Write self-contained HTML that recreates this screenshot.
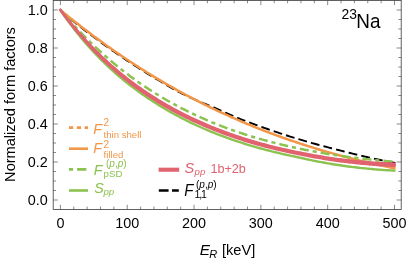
<!DOCTYPE html>
<html><head><meta charset="utf-8"><title>23Na form factors</title>
<style>html,body{margin:0;padding:0;background:#fff;}body{width:407px;height:260px;overflow:hidden;font-family:"Liberation Sans",sans-serif;}</style>
</head><body>
<svg width="407" height="260" viewBox="0 0 407 260" style="display:block;font-family:'Liberation Sans',sans-serif">
<rect width="407" height="260" fill="#fff"/>
<clipPath id="c"><rect x="53.2" y="0.5" width="348.0" height="208.9"/></clipPath>
<g clip-path="url(#c)" fill="none" stroke-linecap="butt" stroke-linejoin="round">
<path d="M60.40,10.00 L62.08,11.47 L63.77,12.92 L65.45,14.38 L67.14,15.82 L68.82,17.26 L70.50,18.69 L72.19,20.11 L73.87,21.52 L75.56,22.92 L77.24,24.30 L78.92,25.67 L80.61,27.01 L82.29,28.34 L83.97,29.66 L85.66,30.95 L87.34,32.23 L89.03,33.50 L90.71,34.77 L92.39,36.03 L94.08,37.29 L95.76,38.53 L97.45,39.77 L99.13,41.01 L100.81,42.23 L102.50,43.46 L104.18,44.67 L105.87,45.88 L107.55,47.08 L109.23,48.27 L110.92,49.46 L112.60,50.64 L114.29,51.81 L115.97,52.98 L117.65,54.14 L119.34,55.29 L121.02,56.44 L122.71,57.58 L124.39,58.71 L126.07,59.84 L127.76,60.96 L129.44,62.08 L131.12,63.18 L132.81,64.28 L134.49,65.38 L136.18,66.47 L137.86,67.55 L139.54,68.62 L141.23,69.69 L142.91,70.76 L144.60,71.81 L146.28,72.86 L147.96,73.91 L149.65,74.94 L151.33,75.97 L153.02,77.00 L154.70,78.02 L156.38,79.03 L158.07,80.03 L159.75,81.03 L161.44,82.03 L163.12,83.01 L164.80,83.99 L166.49,84.97 L168.17,85.94 L169.85,86.90 L171.54,87.86 L173.22,88.81 L174.91,89.75 L176.59,90.68 L178.27,91.58 L179.96,92.46 L181.64,93.32 L183.33,94.16 L185.01,94.98 L186.69,95.79 L188.38,96.59 L190.06,97.37 L191.75,98.16 L193.43,98.93 L195.11,99.71 L196.80,100.47 L198.48,101.21 L200.17,101.92 L201.85,102.63 L203.53,103.32 L205.22,104.00 L206.90,104.69 L208.58,105.37 L210.27,106.07 L211.95,106.77 L213.64,107.49 L215.32,108.23 L217.00,108.98 L218.69,109.73 L220.37,110.48 L222.06,111.23 L223.74,111.98 L225.42,112.72 L227.11,113.46 L228.79,114.20 L230.48,114.93 L232.16,115.65 L233.84,116.37 L235.53,117.08 L237.21,117.78 L238.90,118.46 L240.58,119.14 L242.26,119.80 L243.95,120.45 L245.63,121.08 L247.32,121.70 L249.00,122.32 L250.68,122.94 L252.37,123.57 L254.05,124.19 L255.73,124.81 L257.42,125.42 L259.10,126.03 L260.79,126.64 L262.47,127.24 L264.15,127.84 L265.84,128.43 L267.52,129.02 L269.21,129.60 L270.89,130.19 L272.57,130.76 L274.26,131.33 L275.94,131.90 L277.63,132.47 L279.31,133.03 L280.99,133.58 L282.68,134.13 L284.36,134.68 L286.05,135.22 L287.73,135.76 L289.41,136.29 L291.10,136.82 L292.78,137.34 L294.46,137.86 L296.15,138.37 L297.83,138.89 L299.52,139.39 L301.20,139.90 L302.88,140.39 L304.57,140.89 L306.25,141.38 L307.94,141.87 L309.62,142.35 L311.30,142.83 L312.99,143.31 L314.67,143.78 L316.36,144.25 L318.04,144.71 L319.72,145.17 L321.41,145.62 L323.09,146.07 L324.78,146.51 L326.46,146.95 L328.14,147.39 L329.83,147.83 L331.51,148.26 L333.19,148.70 L334.88,149.13 L336.56,149.56 L338.25,149.99 L339.93,150.43 L341.61,150.86 L343.30,151.29 L344.98,151.72 L346.67,152.15 L348.35,152.57 L350.03,152.99 L351.72,153.41 L353.40,153.82 L355.09,154.23 L356.77,154.64 L358.45,155.04 L360.14,155.44 L361.82,155.84 L363.51,156.23 L365.19,156.62 L366.87,157.01 L368.56,157.39 L370.24,157.77 L371.93,158.14 L373.61,158.51 L375.29,158.88 L376.98,159.25 L378.66,159.61 L380.34,159.97 L382.03,160.33 L383.71,160.68 L385.40,161.03 L387.08,161.37 L388.76,161.72 L390.45,162.06 L392.13,162.40 L393.82,162.73 L395.50,163.06" stroke="#000000" stroke-width="1.9" stroke-dasharray="8.85 4.15"/>
<path d="M60.40,10.00 L62.08,11.38 L63.77,12.76 L65.45,14.13 L67.14,15.50 L68.82,16.85 L70.50,18.20 L72.19,19.55 L73.87,20.88 L75.56,22.21 L77.24,23.54 L78.92,24.85 L80.61,26.16 L82.29,27.46 L83.97,28.76 L85.66,30.05 L87.34,31.33 L89.03,32.60 L90.71,33.87 L92.39,35.13 L94.08,36.39 L95.76,37.63 L97.45,38.87 L99.13,40.11 L100.81,41.33 L102.50,42.56 L104.18,43.77 L105.87,44.98 L107.55,46.18 L109.23,47.37 L110.92,48.56 L112.60,49.74 L114.29,50.91 L115.97,52.08 L117.65,53.24 L119.34,54.39 L121.02,55.54 L122.71,56.68 L124.39,57.81 L126.07,58.94 L127.76,60.06 L129.44,61.18 L131.12,62.28 L132.81,63.38 L134.49,64.48 L136.18,65.57 L137.86,66.65 L139.54,67.72 L141.23,68.79 L142.91,69.86 L144.60,70.91 L146.28,71.96 L147.96,73.01 L149.65,74.04 L151.33,75.07 L153.02,76.10 L154.70,77.12 L156.38,78.13 L158.07,79.13 L159.75,80.13 L161.44,81.13 L163.12,82.11 L164.80,83.09 L166.49,84.07 L168.17,85.04 L169.85,86.00 L171.54,86.96 L173.22,87.91 L174.91,88.85 L176.59,89.79 L178.27,90.72 L179.96,91.65 L181.64,92.57 L183.33,93.48 L185.01,94.39 L186.69,95.29 L188.38,96.19 L190.06,97.08 L191.75,97.96 L193.43,98.84 L195.11,99.72 L196.80,100.58 L198.48,101.44 L200.17,102.30 L201.85,103.15 L203.53,103.99 L205.22,104.83 L206.90,105.66 L208.58,106.49 L210.27,107.31 L211.95,108.13 L213.64,108.94 L215.32,109.74 L217.00,110.54 L218.69,111.34 L220.37,112.12 L222.06,112.91 L223.74,113.68 L225.42,114.46 L227.11,115.22 L228.79,115.98 L230.48,116.74 L232.16,117.49 L233.84,118.23 L235.53,118.97 L237.21,119.71 L238.90,120.44 L240.58,121.16 L242.26,121.88 L243.95,122.59 L245.63,123.30 L247.32,124.00 L249.00,124.70 L250.68,125.39 L252.37,126.08 L254.05,126.76 L255.73,127.44 L257.42,128.11 L259.10,128.78 L260.79,129.44 L262.47,130.10 L264.15,130.75 L265.84,131.40 L267.52,132.04 L269.21,132.68 L270.89,133.32 L272.57,133.94 L274.26,134.57 L275.94,135.19 L277.63,135.80 L279.31,136.41 L280.99,137.02 L282.68,137.62 L284.36,138.21 L286.05,138.80 L287.73,139.39 L289.41,139.97 L291.10,140.55 L292.78,141.12 L294.46,141.69 L296.15,142.25 L297.83,142.81 L299.52,143.37 L301.20,143.92 L302.88,144.47 L304.57,145.01 L306.25,145.55 L307.94,146.08 L309.62,146.61 L311.30,147.13 L312.99,147.65 L314.67,148.17 L316.36,148.68 L318.04,149.19 L319.72,149.69 L321.41,150.19 L323.09,150.69 L324.78,151.18 L326.46,151.67 L328.14,152.15 L329.83,152.63 L331.51,153.11 L333.19,153.58 L334.88,154.05 L336.56,154.51 L338.25,154.97 L339.93,155.43 L341.61,155.88 L343.30,156.33 L344.98,156.77 L346.67,157.21 L348.35,157.65 L350.03,158.08 L351.72,158.51 L353.40,158.94 L355.09,159.36 L356.77,159.78 L358.45,160.20 L360.14,160.61 L361.82,161.02 L363.51,161.42 L365.19,161.82 L366.87,162.22 L368.56,162.61 L370.24,163.00 L371.93,163.39 L373.61,163.78 L375.29,164.16 L376.98,164.53 L378.66,164.91 L380.34,165.28 L382.03,165.64 L383.71,166.01 L385.40,166.37 L387.08,166.73 L388.76,167.08 L390.45,167.43 L392.13,167.78 L393.82,168.12 L395.50,168.47" stroke="#F29648" stroke-width="2.5"/>
<path d="M60.40,10.00 L62.08,11.98 L63.77,13.93 L65.45,15.87 L67.14,17.78 L68.82,19.68 L70.50,21.55 L72.19,23.41 L73.87,25.24 L75.56,27.06 L77.24,28.85 L78.92,30.63 L80.61,32.38 L82.29,34.12 L83.97,35.84 L85.66,37.54 L87.34,39.22 L89.03,40.88 L90.71,42.52 L92.39,44.15 L94.08,45.76 L95.76,47.35 L97.45,48.92 L99.13,50.47 L100.81,52.01 L102.50,53.53 L104.18,55.03 L105.87,56.52 L107.55,57.99 L109.23,59.44 L110.92,60.87 L112.60,62.29 L114.29,63.70 L115.97,65.09 L117.65,66.46 L119.34,67.81 L121.02,69.15 L122.71,70.48 L124.39,71.79 L126.07,73.08 L127.76,74.36 L129.44,75.63 L131.12,76.88 L132.81,78.12 L134.49,79.34 L136.18,80.54 L137.86,81.74 L139.54,82.92 L141.23,84.08 L142.91,85.24 L144.60,86.37 L146.28,87.50 L147.96,88.61 L149.65,89.71 L151.33,90.79 L153.02,91.87 L154.70,92.93 L156.38,93.98 L158.07,95.01 L159.75,96.03 L161.44,97.04 L163.12,98.04 L164.80,99.03 L166.49,100.00 L168.17,100.97 L169.85,101.92 L171.54,102.86 L173.22,103.79 L174.91,104.71 L176.59,105.61 L178.27,106.51 L179.96,107.39 L181.64,108.27 L183.33,109.13 L185.01,109.98 L186.69,110.83 L188.38,111.66 L190.06,112.48 L191.75,113.29 L193.43,114.10 L195.11,114.89 L196.80,115.67 L198.48,116.44 L200.17,117.21 L201.85,117.96 L203.53,118.71 L205.22,119.44 L206.90,120.17 L208.58,120.89 L210.27,121.59 L211.95,122.29 L213.64,122.99 L215.32,123.67 L217.00,124.34 L218.69,125.01 L220.37,125.66 L222.06,126.31 L223.74,126.95 L225.42,127.59 L227.11,128.21 L228.79,128.83 L230.48,129.44 L232.16,130.04 L233.84,130.63 L235.53,131.22 L237.21,131.80 L238.90,132.37 L240.58,132.93 L242.26,133.49 L243.95,134.04 L245.63,134.58 L247.32,135.12 L249.00,135.64 L250.68,136.17 L252.37,136.68 L254.05,137.19 L255.73,137.69 L257.42,138.19 L259.10,138.68 L260.79,139.16 L262.47,139.63 L264.15,140.10 L265.84,140.57 L267.52,141.03 L269.21,141.48 L270.89,141.92 L272.57,142.36 L274.26,142.80 L275.94,143.22 L277.63,143.65 L279.31,144.06 L280.99,144.47 L282.68,144.88 L284.36,145.28 L286.05,145.67 L287.73,146.06 L289.41,146.45 L291.10,146.82 L292.78,147.20 L294.46,147.57 L296.15,147.93 L297.83,148.29 L299.52,148.64 L301.20,148.99 L302.88,149.33 L304.57,149.67 L306.25,150.00 L307.94,150.33 L309.62,150.65 L311.30,150.97 L312.99,151.29 L314.67,151.60 L316.36,151.91 L318.04,152.21 L319.72,152.50 L321.41,152.80 L323.09,153.08 L324.78,153.37 L326.46,153.65 L328.14,153.92 L329.83,154.19 L331.51,154.46 L333.19,154.72 L334.88,154.98 L336.56,155.24 L338.25,155.49 L339.93,155.74 L341.61,155.98 L343.30,156.22 L344.98,156.45 L346.67,156.68 L348.35,156.91 L350.03,157.14 L351.72,157.36 L353.40,157.57 L355.09,157.79 L356.77,158.00 L358.45,158.20 L360.14,158.40 L361.82,158.60 L363.51,158.80 L365.19,158.99 L366.87,159.18 L368.56,159.36 L370.24,159.54 L371.93,159.72 L373.61,159.89 L375.29,160.07 L376.98,160.23 L378.66,160.40 L380.34,160.56 L382.03,160.72 L383.71,160.87 L385.40,161.02 L387.08,161.17 L388.76,161.32 L390.45,161.46 L392.13,161.60 L393.82,161.74 L395.50,161.87" stroke="#8CC250" stroke-width="2.5" stroke-dasharray="4.2 4 9 3.9"/>
<path d="M60.40,10.00 L62.08,12.53 L63.77,15.01 L65.45,17.44 L67.14,19.82 L68.82,22.14 L70.50,24.40 L72.19,26.62 L73.87,28.80 L75.56,30.93 L77.24,33.03 L78.92,35.08 L80.61,37.12 L82.29,39.15 L83.97,41.14 L85.66,43.09 L87.34,45.02 L89.03,46.91 L90.71,48.78 L92.39,50.61 L94.08,52.42 L95.76,54.20 L97.45,55.96 L99.13,57.69 L100.81,59.39 L102.50,61.07 L104.18,62.72 L105.87,64.35 L107.55,65.95 L109.23,67.53 L110.92,69.09 L112.60,70.62 L114.29,72.13 L115.97,73.62 L117.65,75.09 L119.34,76.53 L121.02,77.95 L122.71,79.35 L124.39,80.73 L126.07,82.09 L127.76,83.43 L129.44,84.75 L131.12,86.06 L132.81,87.34 L134.49,88.61 L136.18,89.86 L137.86,91.09 L139.54,92.31 L141.23,93.51 L142.91,94.69 L144.60,95.86 L146.28,97.01 L147.96,98.14 L149.65,99.27 L151.33,100.37 L153.02,101.46 L154.70,102.54 L156.38,103.61 L158.07,104.66 L159.75,105.69 L161.44,106.72 L163.12,107.73 L164.80,108.73 L166.49,109.72 L168.17,110.69 L169.85,111.65 L171.54,112.60 L173.22,113.54 L174.91,114.47 L176.59,115.39 L178.27,116.29 L179.96,117.19 L181.64,118.07 L183.33,118.94 L185.01,119.80 L186.69,120.65 L188.38,121.48 L190.06,122.31 L191.75,123.12 L193.43,123.93 L195.11,124.72 L196.80,125.50 L198.48,126.27 L200.17,127.03 L201.85,127.77 L203.53,128.51 L205.22,129.23 L206.90,129.95 L208.58,130.65 L210.27,131.35 L211.95,132.03 L213.64,132.71 L215.32,133.38 L217.00,134.04 L218.69,134.69 L220.37,135.34 L222.06,135.97 L223.74,136.60 L225.42,137.22 L227.11,137.83 L228.79,138.43 L230.48,139.03 L232.16,139.62 L233.84,140.20 L235.53,140.77 L237.21,141.33 L238.90,141.89 L240.58,142.44 L242.26,142.98 L243.95,143.51 L245.63,144.04 L247.32,144.56 L249.00,145.08 L250.68,145.58 L252.37,146.08 L254.05,146.57 L255.73,147.06 L257.42,147.54 L259.10,148.01 L260.79,148.48 L262.47,148.94 L264.15,149.39 L265.84,149.84 L267.52,150.28 L269.21,150.71 L270.89,151.14 L272.57,151.56 L274.26,151.97 L275.94,152.38 L277.63,152.79 L279.31,153.18 L280.99,153.57 L282.68,153.96 L284.36,154.34 L286.05,154.71 L287.73,155.08 L289.41,155.44 L291.10,155.80 L292.78,156.16 L294.46,156.52 L296.15,156.88 L297.83,157.24 L299.52,157.60 L301.20,157.97 L302.88,158.35 L304.57,158.73 L306.25,159.10 L307.94,159.47 L309.62,159.84 L311.30,160.19 L312.99,160.55 L314.67,160.89 L316.36,161.23 L318.04,161.56 L319.72,161.88 L321.41,162.19 L323.09,162.50 L324.78,162.80 L326.46,163.10 L328.14,163.39 L329.83,163.68 L331.51,163.96 L333.19,164.24 L334.88,164.51 L336.56,164.77 L338.25,165.04 L339.93,165.29 L341.61,165.54 L343.30,165.79 L344.98,166.03 L346.67,166.26 L348.35,166.48 L350.03,166.69 L351.72,166.90 L353.40,167.11 L355.09,167.31 L356.77,167.51 L358.45,167.70 L360.14,167.88 L361.82,168.07 L363.51,168.24 L365.19,168.41 L366.87,168.58 L368.56,168.74 L370.24,168.90 L371.93,169.05 L373.61,169.20 L375.29,169.34 L376.98,169.48 L378.66,169.61 L380.34,169.74 L382.03,169.86 L383.71,169.98 L385.40,170.09 L387.08,170.20 L388.76,170.30 L390.45,170.39 L392.13,170.49 L393.82,170.57 L395.50,170.65" stroke="#8CC250" stroke-width="2.4"/>
<path d="M60.40,8.39 L62.08,10.37 L63.77,12.45 L65.45,14.59 L67.14,16.71 L68.82,18.79 L70.50,20.85 L72.19,22.90 L73.87,24.91 L75.56,26.89 L77.24,28.84 L78.92,30.76 L80.61,32.66 L82.29,34.57 L83.97,36.45 L85.66,38.31 L87.34,40.16 L89.03,41.98 L90.71,43.78 L92.39,45.55 L94.08,47.29 L95.76,49.01 L97.45,50.70 L99.13,52.37 L100.81,54.01 L102.50,55.63 L104.18,57.23 L105.87,58.80 L107.55,60.36 L109.23,61.89 L110.92,63.40 L112.60,64.88 L114.29,66.35 L115.97,67.80 L117.65,69.23 L119.34,70.63 L121.02,72.02 L122.71,73.39 L124.39,74.74 L126.07,76.08 L127.76,77.40 L129.44,78.70 L131.12,79.99 L132.81,81.26 L134.49,82.51 L136.18,83.74 L137.86,84.96 L139.54,86.16 L141.23,87.35 L142.91,88.52 L144.60,89.68 L146.28,90.82 L147.96,91.94 L149.65,93.05 L151.33,94.15 L153.02,95.23 L154.70,96.30 L156.38,97.36 L158.07,98.40 L159.75,99.43 L161.44,100.44 L163.12,101.44 L164.80,102.43 L166.49,103.41 L168.17,104.38 L169.85,105.33 L171.54,106.28 L173.22,107.21 L174.91,108.13 L176.59,109.04 L178.27,109.93 L179.96,110.82 L181.64,111.69 L183.33,112.55 L185.01,113.41 L186.69,114.25 L188.38,115.08 L190.06,115.90 L191.75,116.71 L193.43,117.51 L195.11,118.30 L196.80,119.08 L198.48,119.85 L200.17,120.61 L201.85,121.36 L203.53,122.10 L205.22,122.83 L206.90,123.55 L208.58,124.26 L210.27,124.95 L211.95,125.64 L213.64,126.32 L215.32,127.00 L217.00,127.66 L218.69,128.31 L220.37,128.96 L222.06,129.60 L223.74,130.23 L225.42,130.85 L227.11,131.46 L228.79,132.07 L230.48,132.67 L232.16,133.25 L233.84,133.84 L235.53,134.41 L237.21,134.98 L238.90,135.54 L240.58,136.09 L242.26,136.64 L243.95,137.18 L245.63,137.71 L247.32,138.23 L249.00,138.75 L250.68,139.26 L252.37,139.77 L254.05,140.27 L255.73,140.76 L257.42,141.24 L259.10,141.72 L260.79,142.19 L262.47,142.65 L264.15,143.11 L265.84,143.56 L267.52,144.01 L269.21,144.45 L270.89,144.88 L272.57,145.31 L274.26,145.73 L275.94,146.14 L277.63,146.55 L279.31,146.95 L280.99,147.35 L282.68,147.74 L284.36,148.12 L286.05,148.50 L287.73,148.87 L289.41,149.24 L291.10,149.60 L292.78,149.94 L294.46,150.29 L296.15,150.63 L297.83,150.96 L299.52,151.28 L301.20,151.62 L302.88,151.96 L304.57,152.29 L306.25,152.62 L307.94,152.94 L309.62,153.26 L311.30,153.57 L312.99,153.88 L314.67,154.18 L316.36,154.48 L318.04,154.77 L319.72,155.06 L321.41,155.34 L323.09,155.61 L324.78,155.88 L326.46,156.15 L328.14,156.41 L329.83,156.67 L331.51,156.92 L333.19,157.17 L334.88,157.41 L336.56,157.64 L338.25,157.88 L339.93,158.10 L341.61,158.32 L343.30,158.53 L344.98,158.74 L346.67,158.94 L348.35,159.12 L350.03,159.31 L351.72,159.49 L353.40,159.66 L355.09,159.83 L356.77,159.99 L358.45,160.15 L360.14,160.31 L361.82,160.46 L363.51,160.60 L365.19,160.75 L366.87,160.88 L368.56,161.01 L370.24,161.14 L371.93,161.26 L373.61,161.38 L375.29,161.49 L376.98,161.60 L378.66,161.70 L380.34,161.80 L382.03,161.89 L383.71,161.98 L385.40,162.06 L387.08,162.14 L388.76,162.21 L390.45,162.28 L392.13,162.34 L393.82,162.40 L395.50,162.45 L395.50,167.15 L393.82,167.08 L392.13,167.01 L390.45,166.94 L388.76,166.86 L387.08,166.77 L385.40,166.68 L383.71,166.59 L382.03,166.49 L380.34,166.38 L378.66,166.28 L376.98,166.16 L375.29,166.04 L373.61,165.92 L371.93,165.79 L370.24,165.66 L368.56,165.52 L366.87,165.37 L365.19,165.23 L363.51,165.07 L361.82,164.92 L360.14,164.75 L358.45,164.59 L356.77,164.41 L355.09,164.24 L353.40,164.06 L351.72,163.87 L350.03,163.68 L348.35,163.48 L346.67,163.28 L344.98,163.08 L343.30,162.86 L341.61,162.63 L339.93,162.40 L338.25,162.17 L336.56,161.94 L334.88,161.70 L333.19,161.45 L331.51,161.20 L329.83,160.95 L328.14,160.69 L326.46,160.42 L324.78,160.15 L323.09,159.88 L321.41,159.60 L319.72,159.31 L318.04,159.03 L316.36,158.73 L314.67,158.43 L312.99,158.13 L311.30,157.82 L309.62,157.50 L307.94,157.18 L306.25,156.85 L304.57,156.52 L302.88,156.19 L301.20,155.84 L299.52,155.50 L297.83,155.17 L296.15,154.84 L294.46,154.50 L292.78,154.15 L291.10,153.80 L289.41,153.44 L287.73,153.09 L286.05,152.72 L284.36,152.35 L282.68,151.98 L280.99,151.60 L279.31,151.21 L277.63,150.82 L275.94,150.42 L274.26,150.02 L272.57,149.61 L270.89,149.19 L269.21,148.77 L267.52,148.34 L265.84,147.91 L264.15,147.47 L262.47,147.02 L260.79,146.57 L259.10,146.10 L257.42,145.64 L255.73,145.16 L254.05,144.68 L252.37,144.19 L250.68,143.70 L249.00,143.20 L247.32,142.69 L245.63,142.18 L243.95,141.65 L242.26,141.12 L240.58,140.59 L238.90,140.04 L237.21,139.49 L235.53,138.92 L233.84,138.35 L232.16,137.78 L230.48,137.19 L228.79,136.60 L227.11,136.00 L225.42,135.39 L223.74,134.77 L222.06,134.15 L220.37,133.52 L218.69,132.87 L217.00,132.22 L215.32,131.57 L213.64,130.90 L211.95,130.22 L210.27,129.54 L208.58,128.85 L206.90,128.14 L205.22,127.43 L203.53,126.72 L201.85,125.99 L200.17,125.26 L198.48,124.51 L196.80,123.76 L195.11,123.00 L193.43,122.22 L191.75,121.44 L190.06,120.65 L188.38,119.85 L186.69,119.03 L185.01,118.21 L183.33,117.37 L181.64,116.53 L179.96,115.67 L178.27,114.80 L176.59,113.92 L174.91,113.03 L173.22,112.13 L171.54,111.21 L169.85,110.28 L168.17,109.35 L166.49,108.39 L164.80,107.43 L163.12,106.45 L161.44,105.46 L159.75,104.45 L158.07,103.43 L156.38,102.40 L154.70,101.35 L153.02,100.29 L151.33,99.22 L149.65,98.13 L147.96,97.03 L146.28,95.91 L144.60,94.78 L142.91,93.63 L141.23,92.47 L139.54,91.29 L137.86,90.10 L136.18,88.89 L134.49,87.66 L132.81,86.42 L131.12,85.16 L129.44,83.88 L127.76,82.59 L126.07,81.27 L124.39,79.94 L122.71,78.59 L121.02,77.21 L119.34,75.82 L117.65,74.41 L115.97,72.98 L114.29,71.53 L112.60,70.05 L110.92,68.56 L109.23,67.05 L107.55,65.51 L105.87,63.96 L104.18,62.38 L102.50,60.78 L100.81,59.15 L99.13,57.50 L97.45,55.83 L95.76,54.13 L94.08,52.41 L92.39,50.66 L90.71,48.89 L89.03,47.09 L87.34,45.27 L85.66,43.41 L83.97,41.52 L82.29,39.58 L80.61,37.62 L78.92,35.65 L77.24,33.68 L75.56,31.68 L73.87,29.64 L72.19,27.57 L70.50,25.47 L68.82,23.31 L67.14,21.12 L65.45,18.88 L63.77,16.60 L62.08,14.18 L60.40,11.58Z" fill="#E1636F" stroke="none"/>
<path d="M60.40,9.99 L62.08,12.27 L63.76,14.51 L65.44,16.72 L67.12,18.89 L68.79,21.02 L70.47,23.12 L72.15,25.19 L73.83,27.23 L75.51,29.23 L77.19,31.20 L78.87,33.14 L80.55,35.07 L82.23,37.00 L83.90,38.90 L85.58,40.78 L87.26,42.63 L88.94,44.45 L90.62,46.24 L92.30,48.01 L93.98,49.75 L95.66,51.46 L97.34,53.15 L99.01,54.82 L100.69,56.46 L102.37,58.08 L104.05,59.68 L105.73,61.25 L107.41,62.81 L109.09,64.34 L110.77,65.84 L112.45,67.33 L114.12,68.80 L115.80,70.25 L117.48,71.67 L119.16,73.08 L120.84,74.47 L122.52,75.84 L124.20,77.19 L125.88,78.52 L127.56,79.84 L129.23,81.13 L130.91,82.41 L132.59,83.68 L134.27,84.92 L135.95,86.15 L137.63,87.36 L139.31,88.56 L140.99,89.74 L142.67,90.91 L144.34,92.06 L146.02,93.19 L147.70,94.31 L149.38,95.42 L151.06,96.51 L152.74,97.59 L154.42,98.65 L156.10,99.70 L157.78,100.74 L159.45,101.76 L161.13,102.77 L162.81,103.77 L164.49,104.75 L166.17,105.72 L167.85,106.68 L169.53,107.63 L171.21,108.56 L172.89,109.48 L174.56,110.39 L176.24,111.29 L177.92,112.18 L179.60,113.06 L181.28,113.92 L182.96,114.78 L184.64,115.62 L186.32,116.45 L188.00,117.28 L189.67,118.09 L191.35,118.89 L193.03,119.68 L194.71,120.46 L196.39,121.23 L198.07,122.00 L199.75,122.75 L201.43,123.49 L203.11,124.22 L204.78,124.95 L206.46,125.66 L208.14,126.37 L209.82,127.06 L211.50,127.75 L213.18,128.43 L214.86,129.10 L216.54,129.76 L218.22,130.41 L219.89,131.06 L221.57,131.69 L223.25,132.32 L224.93,132.94 L226.61,133.55 L228.29,134.15 L229.97,134.75 L231.65,135.34 L233.33,135.92 L235.01,136.49 L236.68,137.06 L238.36,137.61 L240.04,138.16 L241.72,138.71 L243.40,139.24 L245.08,139.77 L246.76,140.29 L248.44,140.81 L250.12,141.31 L251.79,141.81 L253.47,142.31 L255.15,142.79 L256.83,143.27 L258.51,143.75 L260.19,144.21 L261.87,144.67 L263.55,145.13 L265.23,145.57 L266.90,146.02 L268.58,146.45 L270.26,146.88 L271.94,147.30 L273.62,147.72 L275.30,148.13 L276.98,148.53 L278.66,148.93 L280.34,149.32 L282.01,149.71 L283.69,150.09 L285.37,150.46 L287.05,150.83 L288.73,151.19 L290.41,151.55 L292.09,151.90 L293.77,152.25 L295.45,152.59 L297.12,152.93 L298.80,153.26 L300.48,153.59 L302.16,153.93 L303.84,154.26 L305.52,154.59 L307.20,154.92 L308.88,155.24 L310.56,155.56 L312.23,155.87 L313.91,156.17 L315.59,156.47 L317.27,156.76 L318.95,157.05 L320.63,157.34 L322.31,157.62 L323.99,157.89 L325.67,158.16 L327.34,158.43 L329.02,158.68 L330.70,158.94 L332.38,159.19 L334.06,159.43 L335.74,159.67 L337.42,159.91 L339.10,160.14 L340.78,160.37 L342.45,160.59 L344.13,160.80 L345.81,161.01 L347.49,161.20 L349.17,161.40 L350.85,161.58 L352.53,161.77 L354.21,161.94 L355.89,162.11 L357.56,162.28 L359.24,162.45 L360.92,162.60 L362.60,162.76 L364.28,162.91 L365.96,163.05 L367.64,163.19 L369.32,163.33 L371.00,163.45 L372.67,163.58 L374.35,163.70 L376.03,163.82 L377.71,163.93 L379.39,164.03 L381.07,164.13 L382.75,164.23 L384.43,164.32 L386.11,164.41 L387.78,164.49 L389.46,164.56 L391.14,164.64 L392.82,164.70 L394.50,164.76" stroke="#E1636F" stroke-width="2.7" stroke-linecap="square"/>
</g>
<path d="M60.40,209.4v-4.6M60.40,0.5v4.6M73.76,209.4v-2.8M73.76,0.5v2.8M87.13,209.4v-2.8M87.13,0.5v2.8M100.49,209.4v-2.8M100.49,0.5v2.8M113.86,209.4v-2.8M113.86,0.5v2.8M127.22,209.4v-4.6M127.22,0.5v4.6M140.58,209.4v-2.8M140.58,0.5v2.8M153.95,209.4v-2.8M153.95,0.5v2.8M167.31,209.4v-2.8M167.31,0.5v2.8M180.68,209.4v-2.8M180.68,0.5v2.8M194.04,209.4v-4.6M194.04,0.5v4.6M207.40,209.4v-2.8M207.40,0.5v2.8M220.77,209.4v-2.8M220.77,0.5v2.8M234.13,209.4v-2.8M234.13,0.5v2.8M247.50,209.4v-2.8M247.50,0.5v2.8M260.86,209.4v-4.6M260.86,0.5v4.6M274.22,209.4v-2.8M274.22,0.5v2.8M287.59,209.4v-2.8M287.59,0.5v2.8M300.95,209.4v-2.8M300.95,0.5v2.8M314.32,209.4v-2.8M314.32,0.5v2.8M327.68,209.4v-4.6M327.68,0.5v4.6M341.04,209.4v-2.8M341.04,0.5v2.8M354.41,209.4v-2.8M354.41,0.5v2.8M367.77,209.4v-2.8M367.77,0.5v2.8M381.14,209.4v-2.8M381.14,0.5v2.8M394.50,209.4v-4.6M394.50,0.5v4.6M53.2,200.00h4.6M401.2,200.00h-4.6M53.2,190.50h2.8M401.2,190.50h-2.8M53.2,181.00h2.8M401.2,181.00h-2.8M53.2,171.50h2.8M401.2,171.50h-2.8M53.2,162.00h4.6M401.2,162.00h-4.6M53.2,152.50h2.8M401.2,152.50h-2.8M53.2,143.00h2.8M401.2,143.00h-2.8M53.2,133.50h2.8M401.2,133.50h-2.8M53.2,124.00h4.6M401.2,124.00h-4.6M53.2,114.50h2.8M401.2,114.50h-2.8M53.2,105.00h2.8M401.2,105.00h-2.8M53.2,95.50h2.8M401.2,95.50h-2.8M53.2,86.00h4.6M401.2,86.00h-4.6M53.2,76.50h2.8M401.2,76.50h-2.8M53.2,67.00h2.8M401.2,67.00h-2.8M53.2,57.50h2.8M401.2,57.50h-2.8M53.2,48.00h4.6M401.2,48.00h-4.6M53.2,38.50h2.8M401.2,38.50h-2.8M53.2,29.00h2.8M401.2,29.00h-2.8M53.2,19.50h2.8M401.2,19.50h-2.8M53.2,10.00h4.6M401.2,10.00h-4.6" stroke="#3a3a3a" stroke-width="0.6" fill="none"/>
<rect x="53.2" y="0.5" width="348.0" height="208.9" fill="none" stroke="#3a3a3a" stroke-width="0.8"/>
<g opacity="0.999">
<text transform="translate(60.40,227.5) scale(1,1.05)" font-size="14.4" fill="#000" text-anchor="middle">0</text>
<text transform="translate(127.22,227.5) scale(1,1.05)" font-size="14.4" fill="#000" text-anchor="middle">100</text>
<text transform="translate(194.04,227.5) scale(1,1.05)" font-size="14.4" fill="#000" text-anchor="middle">200</text>
<text transform="translate(260.86,227.5) scale(1,1.05)" font-size="14.4" fill="#000" text-anchor="middle">300</text>
<text transform="translate(327.68,227.5) scale(1,1.05)" font-size="14.4" fill="#000" text-anchor="middle">400</text>
<text transform="translate(394.50,227.5) scale(1,1.05)" font-size="14.4" fill="#000" text-anchor="middle">500</text>
<text transform="translate(47.8,205.00) scale(1,1.05)" font-size="14.4" fill="#000" text-anchor="end">0.0</text>
<text transform="translate(47.8,167.00) scale(1,1.05)" font-size="14.4" fill="#000" text-anchor="end">0.2</text>
<text transform="translate(47.8,129.00) scale(1,1.05)" font-size="14.4" fill="#000" text-anchor="end">0.4</text>
<text transform="translate(47.8,91.00) scale(1,1.05)" font-size="14.4" fill="#000" text-anchor="end">0.6</text>
<text transform="translate(47.8,53.00) scale(1,1.05)" font-size="14.4" fill="#000" text-anchor="end">0.8</text>
<text transform="translate(47.8,15.00) scale(1,1.05)" font-size="14.4" fill="#000" text-anchor="end">1.0</text>
<text transform="translate(199.8,255.4) scale(1,0.95)" font-size="15.4" fill="#000" font-style="italic">E</text>
<text transform="translate(209.3,258.0) scale(1,1.03)" font-size="11" fill="#000" font-style="italic">R</text>
<text transform="translate(222.0,255.3) scale(1,1.01)" font-size="14.6" fill="#000" >[keV]</text>
<text transform="translate(14.6,104.5) rotate(-90) scale(1,1.01)" font-size="14.6" text-anchor="middle" fill="#000">Normalized form factors</text>
<text transform="translate(341.6,19.4) scale(1,1.06)" font-size="13.9" fill="#000" >23</text>
<text transform="translate(356.3,27.9) scale(1,1.04)" font-size="18.9" fill="#000" >Na</text>
<path d="M69,127.6H88" stroke="#F29648" stroke-width="2.6" fill="none" stroke-dasharray="4.2 3.6"/>
<text transform="translate(93.3,133.6) scale(1,1.04)" font-size="14.4" fill="#F29648" font-style="italic">F</text>
<text transform="translate(103.5,126.1) scale(1,1.04)" font-size="10" fill="#F29648" >2</text>
<text transform="translate(103.6,137.8) scale(1,1.0)" font-size="9.6" fill="#F29648" >thin shell</text>
<path d="M69,148.7H88" stroke="#F29648" stroke-width="2.6" fill="none"/>
<text transform="translate(93.3,153.4) scale(1,1.04)" font-size="14.4" fill="#F29648" font-style="italic">F</text>
<text transform="translate(103.5,148.2) scale(1,1.04)" font-size="10" fill="#F29648" >2</text>
<text transform="translate(103.6,158.1) scale(1,1.0)" font-size="9.6" fill="#F29648" >filled</text>
<path d="M69,169.4H88" stroke="#8CC250" stroke-width="2.7" fill="none" stroke-dasharray="4.1 4 9.3 4"/>
<text transform="translate(93.8,174.5) scale(1,1.04)" font-size="14.4" fill="#8CC250" font-style="italic">F</text>
<text transform="translate(106,166.5) scale(1,1.0)" font-size="10" fill="#8CC250" >(<tspan font-style="italic">p</tspan>,<tspan font-style="italic">p</tspan>)</text>
<text transform="translate(103.6,177.3) scale(1,1.0)" font-size="9.7" fill="#8CC250" >pSD</text>
<path d="M69,190.5H88" stroke="#8CC250" stroke-width="2.6" fill="none"/>
<text transform="translate(94.2,193.3) scale(1,1.04)" font-size="14.4" fill="#8CC250" font-style="italic">S</text>
<text transform="translate(103.4,195.4) scale(1,1.0)" font-size="9.7" fill="#8CC250" font-style="italic">pp</text>
<path d="M158.6,169.7H179.2" stroke="#E1636F" stroke-width="4.1" fill="none"/>
<text transform="translate(184.6,172.8) scale(1,1.04)" font-size="14.6" fill="#E1636F" font-style="italic">S</text>
<text transform="translate(194.5,175.2) scale(1,1.0)" font-size="9.7" fill="#E1636F" font-style="italic">pp</text>
<text transform="translate(210.4,172.6) scale(1,1.04)" font-size="12.6" fill="#E1636F" >1b+2b</text>
<path d="M158.8,190.5H178.8" stroke="#000000" stroke-width="2.4" fill="none" stroke-dasharray="9.8 3.4"/>
<text transform="translate(184.2,195.5) scale(1,1.04)" font-size="15" fill="#000" font-style="italic">F</text>
<text transform="translate(196,187.5) scale(1,1.0)" font-size="10" fill="#000" >(<tspan font-style="italic">p</tspan>,<tspan font-style="italic">p</tspan>)</text>
<text transform="translate(194.4,197.8) scale(1,1.06)" font-size="10.6" fill="#000" letter-spacing="-1.15">1,1</text>
</g>
</svg>
</body></html>
